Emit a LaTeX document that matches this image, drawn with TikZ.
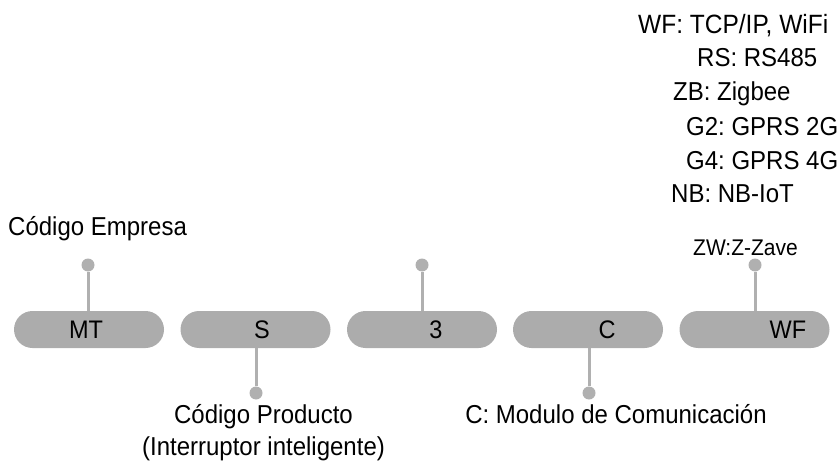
\documentclass[tikz,border=0pt]{standalone}
\usepackage{fontspec}
\setmainfont{Liberation Sans}
\usetikzlibrary{shapes.misc}
\definecolor{pillgray}{RGB}{172,172,172}
\definecolor{stemgray}{RGB}{176,176,176}
\frenchspacing
% slightly tall lettering
\newcommand\talltext[1]{\scalebox{1}[1.08]{#1}}
\tikzset{
  pill/.style={rounded rectangle, fill=pillgray, draw=none,
    minimum width=150pt, minimum height=37pt, inner sep=0pt},
  pilltext/.style={anchor=base, inner sep=0pt, font=\fontsize{23.5}{27}\selectfont},
  knob/.style={circle, fill=stemgray, draw=none, minimum size=13pt, inner sep=0pt},
  stem/.style={stemgray, line width=3pt},
  caption/.style={inner sep=0pt, font=\fontsize{24}{28}\selectfont},
  smallcaption/.style={inner sep=0pt, font=\fontsize{21}{25}\selectfont}
}
\begin{document}
\begin{tikzpicture}[x=1pt,y=-1pt]
\useasboundingbox (0,0) rectangle (840,465);

% code segments
\node[pill] (p1) at (89,329.5) {};
\node[pill] (p2) at (255.5,329.5) {};
\node[pill] (p3) at (422,329.5) {};
\node[pill] (p4) at (588,329.5) {};
\node[pill] (p5) at (754.5,329.5) {};

\node[pilltext] (t1) at (86,338.5) {\talltext{MT}};
\node[pilltext] (t2) at (262,338.5) {\talltext{S}};
\node[pilltext] (t3) at (436,338.5) {\talltext{3}};
\node[pilltext] (t4) at (607,338.5) {\talltext{C}};
\node[pilltext] (t5) at (788,338.5) {\talltext{WF}};

% pointers above and below the segments
\node[knob] (k1) at (88,265) {};
\node[knob] (k3) at (422,265) {};
\node[knob] (k5) at (755,265) {};
\node[knob] (k2) at (256,393) {};
\node[knob] (k4) at (589,393) {};

\draw[stem] (k1) -- (k1 |- p1.north);
\draw[stem] (k3) -- (k3 |- p3.north);
\draw[stem] (k5) -- (k5 |- p5.north);
\draw[stem] (k2) -- (k2 |- p2.south);
\draw[stem] (k4) -- (k4 |- p4.south);

% descriptions
\node[caption, anchor=base west] (empresa) at (8,235) {\talltext{Código Empresa}};

\node[caption, anchor=base] (producto) at (263.5,423) {\talltext{Código Producto}};
\node[caption, anchor=base] (producto2) at (263.5,455) {\talltext{(Interruptor inteligente)}};
\node[caption, anchor=base] (modulo) at (616,423) {\talltext{C: Modulo de Comunicación}};

\node[caption, font=\fontsize{24.5}{28}\selectfont, anchor=base west] (wf) at (638,34) {\talltext{WF: TCP/IP, WiFi}};
\node[caption, anchor=base west] (rs) at (697,67) {\talltext{RS: RS485}};
\node[caption, anchor=base west] (zb) at (673,101) {\talltext{ZB: Zigbee}};
\node[caption, anchor=base west] (g2) at (686,136) {\talltext{G2: GPRS 2G}};
\node[caption, anchor=base west] (g4) at (686,170) {\talltext{G4: GPRS 4G}};
\node[caption, anchor=base west] (nb) at (671,203) {\talltext{NB: NB-IoT}};
\node[smallcaption, anchor=base west] (zw) at (693,255) {\talltext{ZW:Z-Zave}};
\end{tikzpicture}
\end{document}
